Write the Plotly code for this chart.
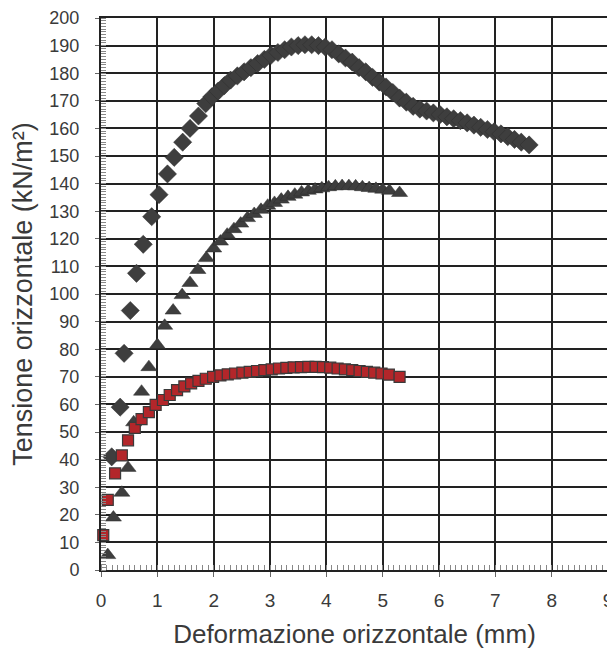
import plotly.graph_objects as go

# Diamonds (series 1)
dia_x = [0.19, 0.34, 0.41, 0.52, 0.63, 0.75, 0.9, 1.03, 1.18, 1.3, 1.45, 1.58, 1.73, 1.86,
         1.97, 2.08, 2.19, 2.3, 2.42, 2.54, 2.66, 2.78, 2.9, 3.02, 3.14, 3.26, 3.38, 3.5,
         3.62, 3.74, 3.86, 3.98, 4.1, 4.22, 4.34, 4.46, 4.58, 4.7, 4.82, 4.94, 5.06, 5.18,
         5.3, 5.42, 5.54, 5.66, 5.78, 5.9, 6.02, 6.14, 6.26, 6.38, 6.5, 6.62, 6.74, 6.86,
         6.98, 7.1, 7.22, 7.34, 7.46, 7.6]
dia_y = [41, 59, 78.5, 94, 107.5, 118, 128, 136, 143.5, 149.5, 155, 160, 164.5, 169,
         171.5, 173.5, 175.5, 177.5, 179, 180.5, 182, 183.5, 185, 186.5, 187.5, 188.5, 189.5, 190,
         190.3, 190.3, 190, 189.5, 188.5, 187, 185.5, 184, 182, 180.5, 178.5, 176.8, 175, 173,
         171, 169.5, 168, 167, 166.3, 165.6, 165, 164.2, 163.5, 162.8, 162, 161.2, 160.4, 159.6,
         158.8, 158, 157, 156, 155, 154]

# Triangles (series 2)
tri_x = [0.12, 0.22, 0.37, 0.48, 0.58, 0.72, 0.85, 1.0, 1.13, 1.28, 1.44, 1.58, 1.72, 1.87,
         2.0, 2.12, 2.24, 2.36, 2.48, 2.6, 2.72, 2.84, 2.96, 3.08, 3.2, 3.32, 3.44, 3.56,
         3.68, 3.8, 3.92, 4.04, 4.16, 4.28, 4.4, 4.52, 4.64, 4.76, 4.88, 5.0, 5.12, 5.3]
tri_y = [5.4, 19, 28, 37, 53.5, 64.6, 73.5, 81.5, 88.5, 94, 99.6, 104, 108.7, 113,
         116.5, 119, 121.5, 123.5, 125.5, 127.5, 129, 130.5, 132, 133, 134.2, 135.2, 136, 136.8,
         137.4, 137.9, 138.3, 138.7, 139, 139.1, 139.1, 139, 138.7, 138.4, 138.1, 137.8, 137.4, 136.6]

# Squares (series 3)
sq_x = [0.04, 0.12, 0.25, 0.37, 0.48, 0.6, 0.72, 0.85, 0.97, 1.1, 1.22, 1.35, 1.48, 1.6,
        1.73, 1.86, 1.99, 2.12, 2.25, 2.38, 2.51, 2.64, 2.77, 2.9, 3.03, 3.16, 3.29, 3.42,
        3.55, 3.68, 3.81, 3.94, 4.07, 4.2, 4.33, 4.46, 4.59, 4.72, 4.85, 4.98, 5.11, 5.3]
sq_y = [12.6, 25.4, 35, 41.5, 47, 51.5, 54.7, 57.2, 59.8, 61.6, 63.4, 65.2, 66.5, 67.6,
        68.5, 69.3, 70, 70.5, 70.9, 71.2, 71.5, 71.8, 72.1, 72.4, 72.7, 73, 73.2, 73.4,
        73.5, 73.6, 73.6, 73.5, 73.3, 73, 72.7, 72.4, 72.1, 71.8, 71.5, 71.2, 70.8, 70]

x_ticks = [0, 1, 2, 3, 4, 5, 6, 7, 8, 9]
y_ticks = list(range(0, 201, 10))

FONT = "Liberation Sans, Arial, sans-serif"
TXT = "#3a3a3a"

fig = go.Figure()
fig.add_trace(go.Scatter(x=dia_x, y=dia_y, mode="markers",
                         marker=dict(symbol="diamond", size=14, color="#3e3e3e",
                                     line=dict(color="#2e2e2e", width=0.5)),
                         cliponaxis=False, showlegend=False))
fig.add_trace(go.Scatter(x=tri_x, y=tri_y, mode="markers",
                         marker=dict(symbol="triangle-up", size=14, color="#3e3e3e",
                                     line=dict(color="#2e2e2e", width=0.5)),
                         cliponaxis=False, showlegend=False))
fig.add_trace(go.Scatter(x=sq_x, y=sq_y, mode="markers",
                         marker=dict(symbol="square", size=11, color="#b3262a",
                                     line=dict(color="#3a3a3a", width=1.2)),
                         cliponaxis=False, showlegend=False))

fig.update_layout(
    width=607, height=646,
    margin=dict(l=93, r=7, t=10, b=84),
    paper_bgcolor="white", plot_bgcolor="white",
    xaxis=dict(range=[0, 9], tickvals=x_ticks, ticktext=[str(v) for v in x_ticks],
               automargin=False,
               showgrid=True, gridcolor="#222222", gridwidth=2,
               showline=True, linecolor="#222222", linewidth=2, mirror=True,
               ticks="outside", ticklen=5, tickcolor="#666666", tickwidth=1,
               ticklabelstandoff=7,
               minor=dict(dtick=0.1, ticks="inside", ticklen=5, tickcolor="#888888",
                          tickwidth=1, showgrid=False),
               tickfont=dict(family=FONT, size=19, color=TXT), zeroline=False,
               title=dict(text="Deformazione orizzontale (mm)",
                          font=dict(family=FONT, size=26, color=TXT))),
    yaxis=dict(range=[0, 200], tickvals=y_ticks, ticktext=[str(v) for v in y_ticks],
               automargin=False,
               showgrid=True, gridcolor="#222222", gridwidth=2,
               showline=True, linecolor="#222222", linewidth=2, mirror=True,
               ticks="outside", ticklen=4, tickcolor="#666666", tickwidth=1,
               ticklabelstandoff=12,
               minor=dict(dtick=1, ticks="inside", ticklen=5, tickcolor="#888888",
                          tickwidth=1, showgrid=False),
               tickfont=dict(family=FONT, size=18, color=TXT), zeroline=False,
               title=dict(text="Tensione orizzontale (kN/m²)",
                          font=dict(family=FONT, size=27, color=TXT))),
)

fig.write_html("out.html")
